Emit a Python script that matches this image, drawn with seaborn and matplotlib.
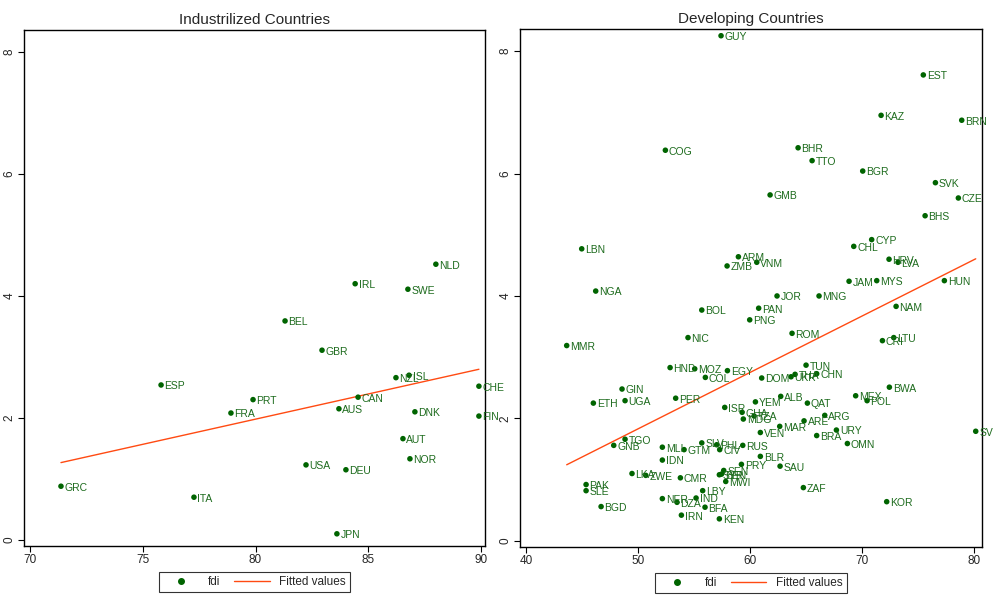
import numpy as np
import pandas as pd
import matplotlib
matplotlib.use("Agg")
import matplotlib.pyplot as plt
import seaborn as sns
from matplotlib.lines import Line2D

# values
ind_code = ["GRC", "ITA", "FRA", "ESP", "PRT", "BEL", "GBR", "USA", "DEU", "JPN", "AUS",
            "CAN", "IRL", "SWE", "NLD", "NZL", "ISL", "AUT", "NOR", "DNK", "CHE", "FIN"]
ind_x = [71.37, 77.27, 78.91, 75.81, 79.89, 81.31, 82.95, 82.24, 84.01, 83.61, 83.70,
         84.55, 84.42, 86.76, 88.00, 86.23, 86.81, 86.54, 86.85, 87.07, 89.91, 89.91]
ind_fdi = [0.88, 0.70, 2.08, 2.54, 2.30, 3.59, 3.11, 1.23, 1.15, 0.10, 2.15,
           2.34, 4.20, 4.11, 4.52, 2.66, 2.70, 1.66, 1.33, 2.10, 2.52, 2.03]

dev_code = ["GUY", "EST", "KAZ", "BRN", "COG", "BHR", "TTO", "BGR", "SVK", "CZE", "GMB", "BHS",
            "LBN", "ARM", "ZMB", "NGA", "BOL", "MMR", "NIC", "HND", "MOZ", "COL", "EGY", "GIN",
            "UGA", "ETH", "PER", "ISR", "CYP", "CHL", "HRV", "LVA", "VNM", "JAM", "MYS", "HUN",
            "JOR", "MNG", "PAN", "NAM", "PNG", "ROM", "CRI", "LTU", "TUN", "DOM", "THA", "UKR",
            "CHN", "BWA", "ALB", "YEM", "MEX", "POL", "QAT", "GHA", "TZA", "MDG", "ARG", "ARE",
            "MAR", "URY", "BRA", "VEN", "SVN", "OMN", "RUS", "BLR", "PRY", "SAU", "ZAF", "KOR",
            "TGO", "GNB", "MLI", "GTM", "SLV", "PHL", "CIV", "IDN", "LKA", "ZWE", "CMR", "SEN",
            "SYR", "BEN", "MWI", "PAK", "SLE", "LBY", "IND", "NER", "DZA", "BFA", "BGD", "IRN",
            "KEN"]
dev_x = [57.41, 75.47, 71.70, 78.90, 52.44, 64.29, 65.54, 70.06, 76.55, 78.60, 61.79, 75.63,
         44.97, 58.96, 57.95, 46.22, 55.69, 43.63, 54.46, 52.86, 55.06, 56.01, 57.98, 48.57,
         48.84, 46.01, 53.36, 57.74, 70.86, 69.26, 72.41, 73.21, 60.60, 68.84, 71.31, 77.35,
         62.41, 66.16, 60.77, 73.04, 59.97, 63.75, 71.82, 72.83, 65.00, 61.04, 64.02, 63.66,
         65.95, 72.44, 62.74, 60.48, 69.43, 70.45, 65.12, 59.29, 60.36, 59.40, 66.67, 64.82,
         62.65, 67.71, 65.95, 60.92, 80.15, 68.69, 59.35, 60.92, 59.23, 62.68, 64.76, 72.20,
         48.84, 47.83, 52.17, 54.11, 55.69, 57.02, 57.29, 52.17, 49.46, 50.69, 53.78, 57.65,
         57.26, 57.45, 57.83, 45.36, 45.36, 55.77, 55.18, 52.17, 53.48, 55.98, 46.70, 53.87,
         57.26]
dev_fdi = [8.25, 7.61, 6.95, 6.87, 6.38, 6.42, 6.21, 6.04, 5.85, 5.60, 5.65, 5.31,
           4.77, 4.64, 4.49, 4.08, 3.77, 3.19, 3.32, 2.83, 2.81, 2.67, 2.78, 2.48,
           2.29, 2.25, 2.33, 2.18, 4.92, 4.81, 4.60, 4.55, 4.55, 4.24, 4.25, 4.25,
           4.00, 4.00, 3.80, 3.83, 3.61, 3.39, 3.27, 3.32, 2.87, 2.66, 2.72, 2.68,
           2.73, 2.51, 2.36, 2.27, 2.37, 2.29, 2.25, 2.10, 2.04, 1.99, 2.05, 1.96,
           1.87, 1.81, 1.72, 1.77, 1.79, 1.59, 1.56, 1.38, 1.25, 1.22, 0.87, 0.64,
           1.66, 1.56, 1.53, 1.49, 1.60, 1.57, 1.49, 1.32, 1.10, 1.07, 1.03, 1.15,
           1.08, 1.09, 0.97, 0.92, 0.82, 0.82, 0.70, 0.69, 0.63, 0.55, 0.56, 0.42,
           0.36]

ind = pd.DataFrame({"code": ind_code, "x": ind_x, "fdi": ind_fdi})
dev = pd.DataFrame({"code": dev_code, "x": dev_x, "fdi": dev_fdi})

sns.set_theme(style="white")
plt.rcParams["font.family"] = ["Liberation Sans Narrow", "Liberation Sans", "DejaVu Sans"]

green = "#006400"
lblgreen = "#1d6b1d"
orange = "#FF4A12"

fig = plt.figure(figsize=(9.93, 5.98), dpi=100)
ax1 = fig.add_axes([24 / 993, 1 - 546 / 598, 461 / 993, 516 / 598])
ax2 = fig.add_axes([520 / 993, 1 - 547 / 598, 462 / 993, 518 / 598])

panels = [(ax1, ind, "Industrilized Countries", (69.73, 90.18), [70, 75, 80, 85, 90]),
          (ax2, dev, "Developing Countries", (39.46, 80.71), [40, 50, 60, 70, 80])]

for ax, df, title, xlim, xt in panels:
    sns.regplot(data=df, x="x", y="fdi", ax=ax, ci=None, truncate=True,
                scatter_kws={"s": 16, "color": green, "edgecolor": "none", "alpha": 1, "zorder": 3},
                line_kws={"color": orange, "lw": 1.0, "zorder": 2})
    for _, r in df.iterrows():
        ax.annotate(r["code"], (r["x"], r["fdi"]), xytext=(2.5, -1), textcoords="offset points",
                    fontsize=7.5, color=lblgreen, va="center", ha="left", clip_on=False)
    ax.set_xlim(*xlim)
    ax.set_ylim(-0.1, 8.36)
    ax.set_xticks(xt)
    ax.set_yticks([0, 2, 4, 6, 8])
    ax.set_xlabel("")
    ax.set_ylabel("")
    ax.set_title(title, fontsize=11, pad=4)
    ax.tick_params(axis="both", direction="out", length=4, width=0.8, labelsize=8.5,
                   bottom=True, left=True, pad=2, color="black")
    for lab in ax.get_yticklabels():
        lab.set_rotation(90)
        lab.set_va("center")
    for s in ax.spines.values():
        s.set_color("black")
        s.set_linewidth(1.0)
    handles = [Line2D([], [], marker="o", ls="none", color=green, markersize=4),
               Line2D([], [], color=orange, lw=1.0)]
    leg = ax.legend(handles, ["fdi", "Fitted values"], loc="upper center",
                    bbox_to_anchor=(0.5, -0.05), ncol=2, fontsize=8.5, frameon=True,
                    fancybox=False, edgecolor="black", handlelength=3.0, columnspacing=1.2,
                    borderpad=0.35, handletextpad=0.8, borderaxespad=0)
    leg.get_frame().set_linewidth(0.8)

fig.savefig("out.png", dpi=100)
